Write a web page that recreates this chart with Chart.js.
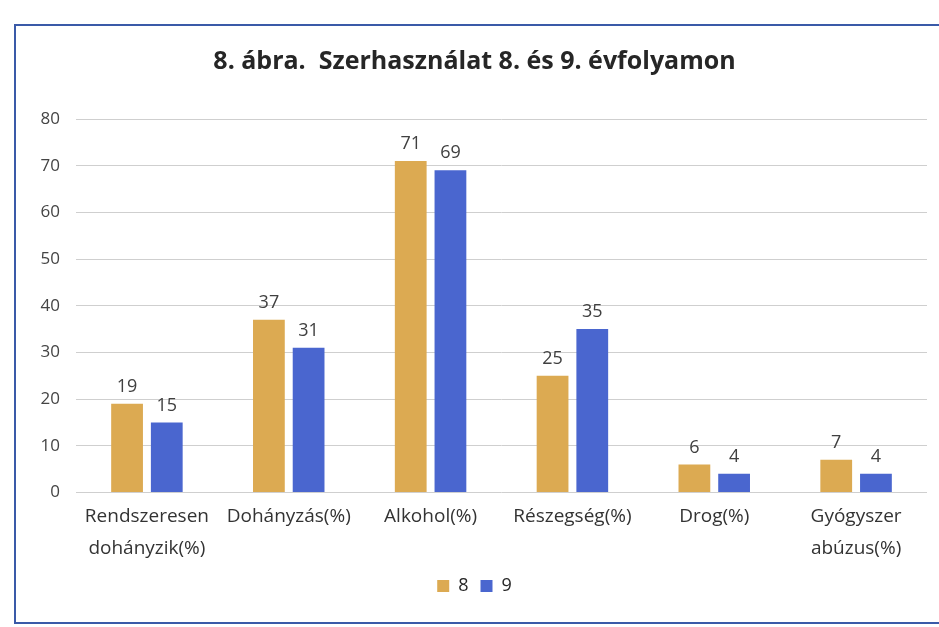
<!DOCTYPE html>
<html>
<head>
<meta charset="utf-8">
<script src="https://cdn.jsdelivr.net/npm/chart.js@4.4.1/dist/chart.umd.min.js"></script>
<style>
  body { margin: 0; background: #fff; }
  #wrap { position: relative; width: 939px; height: 627px; }
  #frame {
    position: absolute; left: 14px; top: 24px; width: 940px; height: 600px;
    border: 2px solid #3a5aa8; box-sizing: border-box;
  }
  canvas { position: absolute; left: 0; top: 0; }
</style>
</head>
<body>
<div id="wrap">
  <div id="frame"></div>
  <canvas id="myChart" width="939" height="627"></canvas>
</div>
<script>
const categories = [
  ["Rendszeresen", "dohányzik(%)"],
  "Dohányzás(%)",
  "Alkohol(%)",
  "Részegség(%)",
  "Drog(%)",
  ["Gyógyszer", "abúzus(%)"],
];
const grade8 = [19, 37, 71, 25, 6, 7];
const grade9 = [15, 31, 69, 35, 4, 4];
const yTicks = [0, 10, 20, 30, 40, 50, 60, 70, 80];

const fontFamily = "'Open Sans', 'DejaVu Sans', sans-serif";

// writes the value above every bar
const valueLabels = {
  id: "valueLabels",
  afterDatasetsDraw(chart) {
    const ctx = chart.ctx;
    ctx.save();
    ctx.font = "18px " + fontFamily;
    ctx.fillStyle = "#404040";
    ctx.textAlign = "center";
    ctx.textBaseline = "bottom";
    chart.data.datasets.forEach((ds, i) => {
      chart.getDatasetMeta(i).data.forEach((bar, j) => {
        ctx.fillText(ds.data[j], bar.x, bar.y - 8);
      });
    });
    ctx.restore();
  },
};

const ctx = document.getElementById("myChart").getContext("2d");
const myChart = new Chart(ctx, {
  type: "bar",
  data: {
    labels: categories,
    datasets: [
      {
        label: "8",
        data: grade8,
        backgroundColor: "#dcaa52",
        categoryPercentage: 0.56,
        barPercentage: 0.8,
      },
      {
        label: "9",
        data: grade9,
        backgroundColor: "#4a66cf",
        categoryPercentage: 0.56,
        barPercentage: 0.8,
      },
    ],
  },
  options: {
    responsive: false,
    animation: false,
    layout: { padding: { left: 22, right: 12, top: 47, bottom: 22 } },
    plugins: {
      title: {
        display: true,
        text: "8. ábra.  Szerhasználat 8. és 9. évfolyamon",
        font: { family: fontFamily, size: 25, weight: "bold" },
        color: "#262626",
        padding: { top: 0, bottom: 42 },
      },
      legend: {
        position: "bottom",
        labels: {
          boxWidth: 12,
          boxHeight: 12,
          padding: 12,
          color: "#262626",
          font: { family: fontFamily, size: 18 },
        },
      },
      tooltip: { enabled: false },
    },
    scales: {
      x: {
        grid: { display: false },
        border: { display: false },
        ticks: {
          color: "#333",
          padding: 0,
          font: { family: fontFamily, size: 19, lineHeight: 1.7 },
          maxRotation: 0,
          autoSkip: false,
        },
      },
      y: {
        min: 0,
        max: 80,
        afterFit(scale) { scale.width = 54; },
        afterBuildTicks(scale) { scale.ticks = yTicks.map(v => ({ value: v })); },
        grid: { color: "#cfcfcf", drawTicks: false },
        border: { display: false },
        ticks: {
          color: "#444",
          padding: 16,
          font: { family: fontFamily, size: 17 },
        },
      },
    },
  },
  plugins: [valueLabels],
});
</script>
</body>
</html>
